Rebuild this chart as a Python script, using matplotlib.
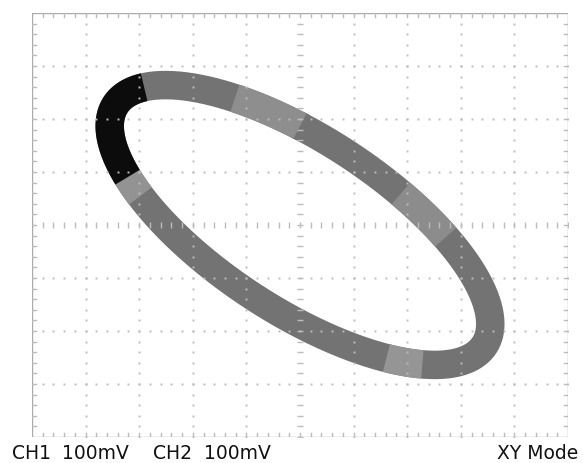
import numpy as np
import matplotlib
matplotlib.use("Agg")
import matplotlib.pyplot as plt

# XY-mode Lissajous trace: channel amplitudes (mV) and phase of CH2 relative to CH1
ch1_amp_mv = 355
ch2_amp_mv = 264
phase_deg = 135
ch1_scale_mv = 100   # mV per division
ch2_scale_mv = 100

# Brightness variation along the trace (phase angle ranges, degrees)
shade_start_deg = [-123, -115, -20, 32, 140]
shade_end_deg = [-115, -55, 0, 50, 153]
shade_color = ["#939393", "#0c0c0c", "#8e8e8e", "#8c8c8c", "#959595"]

# Screen labels
ch_labels = ["CH1", "CH2"]
scale_labels = ["100mV", "100mV"]
mode_label = "XY Mode"

trace_color = "#737373"
grid_color = "#bcbcbc"
band_lw = 20.5

fig = plt.figure(figsize=(5.83, 4.64), dpi=100)
ax = fig.add_axes([32 / 583, 1 - 438 / 464, 536 / 583, 424 / 464])
ax.set_xlim(-5, 5)
ax.set_ylim(-4, 4)
ax.axis("off")


def trace_xy(t_deg):
    t = np.radians(t_deg)
    x = ch1_amp_mv / ch1_scale_mv * np.sin(t)
    y = ch2_amp_mv / ch2_scale_mv * np.sin(t + np.radians(phase_deg))
    return x, y


t_full = np.linspace(0, 360, 721)
x, y = trace_xy(t_full)
ax.plot(x, y, color=trace_color, lw=band_lw, solid_joinstyle="round",
        solid_capstyle="round", zorder=2)

for a, b, c in zip(shade_start_deg, shade_end_deg, shade_color):
    ts = np.linspace(a, b, 60)
    xs, ys = trace_xy(ts)
    ax.plot(xs, ys, color=c, lw=band_lw, solid_capstyle="butt", zorder=3)

# Graticule: dotted division lines, border and centre-axis ticks
minor_x = np.arange(-5, 5.001, 0.2)
minor_y = np.arange(-4, 4.001, 0.2)
for gx in range(-4, 5):
    if gx == 0:
        continue
    ax.plot(np.full_like(minor_y, gx), minor_y, ls="none", marker="s", ms=1.4,
            mew=0, color=grid_color, zorder=4)
for gy in range(-3, 4):
    if gy == 0:
        continue
    ax.plot(minor_x, np.full_like(minor_x, gy), ls="none", marker="s", ms=1.4,
            mew=0, color=grid_color, zorder=4)

ax.plot(minor_x, np.zeros_like(minor_x), ls="none", marker="|", ms=4.5,
        mew=1.0, color=grid_color, zorder=4)
ax.plot(np.zeros_like(minor_y), minor_y, ls="none", marker="_", ms=4.5,
        mew=1.0, color=grid_color, zorder=4)

border = dict(color="#ababab", lw=1.0, zorder=4)
ax.plot([-5, 5, 5, -5, -5], [-4, -4, 4, 4, -4], **border)
tick_len = 0.07
for tx in minor_x[1:-1]:
    ax.plot([tx, tx], [4, 4 - tick_len], color=grid_color, lw=1.0, zorder=4)
    ax.plot([tx, tx], [-4, -4 + tick_len], color=grid_color, lw=1.0, zorder=4)
for ty in minor_y[1:-1]:
    ax.plot([-5, -5 + tick_len], [ty, ty], color=grid_color, lw=1.0, zorder=4)
    ax.plot([5, 5 - tick_len], [ty, ty], color=grid_color, lw=1.0, zorder=4)

# Bottom status line
font = dict(family=["DejaVu Sans"], fontsize=13.5,
            color="#111111", va="baseline")
ybase = 1 - 459 / 464
fig.text(12 / 583, ybase, ch_labels[0], ha="left", **font)
fig.text(62 / 583, ybase, scale_labels[0], ha="left", **font)
fig.text(153 / 583, ybase, ch_labels[1], ha="left", **font)
fig.text(204 / 583, ybase, scale_labels[1], ha="left", **font)
fig.text(578 / 583, ybase, mode_label, ha="right", **font)

fig.savefig("out.png", dpi=100, facecolor="white")
